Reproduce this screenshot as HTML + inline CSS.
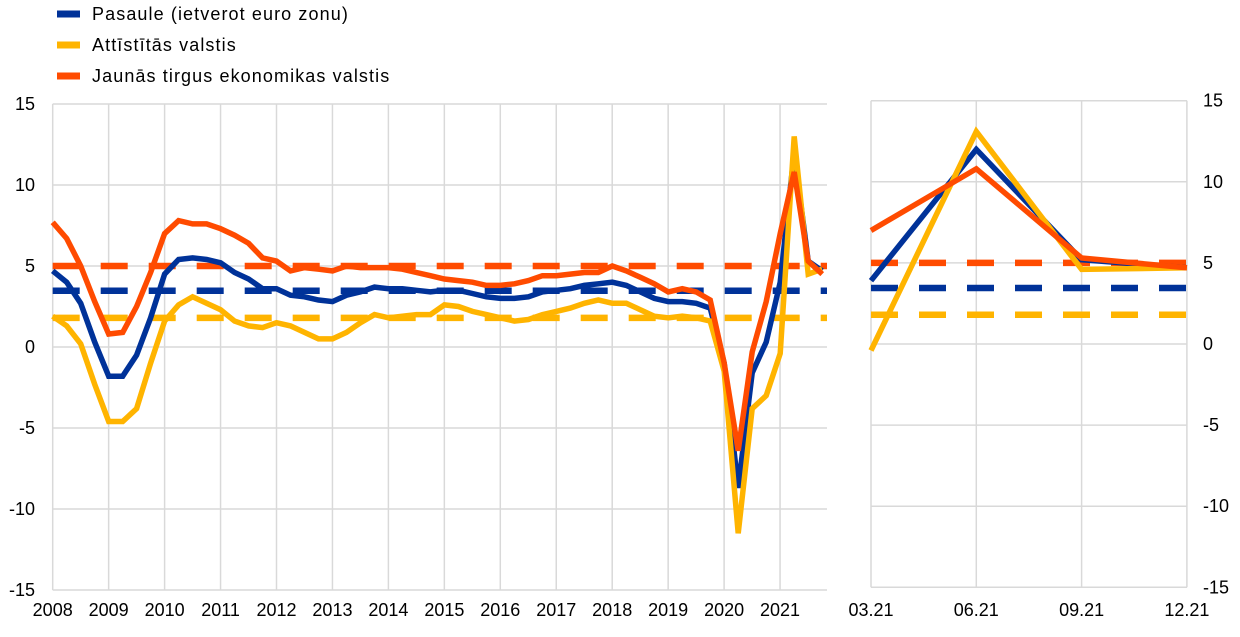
<!DOCTYPE html>
<html><head><meta charset="utf-8"><style>
html,body{margin:0;padding:0;background:#fff;}
svg text{font-family:"Liberation Sans",Arial,sans-serif;font-size:18px;fill:#000;}
svg text.lg{letter-spacing:1.1px;}
</style></head><body>
<svg id="c" width="1240" height="632" xmlns="http://www.w3.org/2000/svg"></svg>
<script>
const s=document.getElementById('c');let h='';
const leg=[["#003299","Pasaule (ietverot euro zonu)",14],["#FFB400","Attīstītās valstis",45],["#FF4B00","Jaunās tirgus ekonomikas valstis",76]];
leg.forEach(l=>{h+=`<line x1="57" x2="80" y1="${l[2]}" y2="${l[2]}" stroke="${l[0]}" stroke-width="7"/><text class="lg" x="92" y="${l[2]+6}">${l[1]}</text>`;});
const L0=52.7,LR=827,ly=v=>347-v*16.2;
for(let v=-15;v<=15;v+=5){h+=`<line x1="${L0}" x2="${LR}" y1="${ly(v)}" y2="${ly(v)}" stroke="#d9d9d9" stroke-width="1.5"/><text x="35" y="${ly(v)+6}" text-anchor="end">${v}</text>`;}
for(let k=0;k<14;k++){const x=L0+k*55.95;h+=`<line x1="${x}" x2="${x}" y1="${ly(15)}" y2="${ly(-15)}" stroke="#d9d9d9" stroke-width="1.5"/><text x="${x}" y="616" text-anchor="middle">${2008+k}</text>`;}
const blue=[4.7,4.0,2.7,0.3,-1.8,-1.8,-0.5,1.8,4.5,5.4,5.5,5.4,5.2,4.6,4.2,3.6,3.6,3.2,3.1,2.9,2.8,3.2,3.4,3.7,3.6,3.6,3.5,3.4,3.5,3.5,3.3,3.1,3.0,3.0,3.1,3.4,3.5,3.6,3.8,3.9,4.0,3.8,3.4,3.0,2.8,2.8,2.7,2.4,-1.0,-8.7,-1.6,0.3,4.0,12.0,5.3,4.7];
const yel=[1.9,1.3,0.2,-2.3,-4.6,-4.6,-3.8,-1.0,1.6,2.6,3.1,2.7,2.3,1.6,1.3,1.2,1.5,1.3,0.9,0.5,0.5,0.9,1.5,2.0,1.8,1.9,2.0,2.0,2.6,2.5,2.2,2.0,1.8,1.6,1.7,2.0,2.2,2.4,2.7,2.9,2.7,2.7,2.3,1.9,1.8,1.9,1.8,1.6,-1.5,-11.5,-3.8,-3.0,-0.4,13.0,4.5,4.8];
const red=[7.7,6.7,5.0,2.8,0.8,0.9,2.5,4.6,7.0,7.8,7.6,7.6,7.3,6.9,6.4,5.5,5.3,4.7,4.9,4.8,4.7,5.0,4.9,4.9,4.9,4.8,4.6,4.4,4.2,4.1,4.0,3.8,3.8,3.9,4.1,4.4,4.4,4.5,4.6,4.6,5.0,4.7,4.3,3.9,3.4,3.6,3.4,2.9,-1.0,-6.4,-0.3,2.8,7.0,10.8,5.3,4.5];
const pl=(d,c,xf,yf)=>`<polyline fill="none" stroke="${c}" stroke-width="5.5" stroke-linejoin="miter" points="${d.map((v,i)=>xf(i).toFixed(1)+','+yf(v).toFixed(1)).join(' ')}"/>`;
const dl=(x1,x2,y,c)=>`<line x1="${x1}" x2="${x2}" y1="${y}" y2="${y}" stroke="${c}" stroke-width="6.5" stroke-dasharray="27 21"/>`;
const lx=i=>L0+i*13.99;
h+=dl(L0,LR,ly(1.8),"#FFB400")+dl(L0,LR,ly(3.47),"#003299")+dl(L0,LR,ly(5),"#FF4B00");
h+=pl(blue,"#003299",lx,ly)+pl(yel,"#FFB400",lx,ly)+pl(red,"#FF4B00",lx,ly);
const R0=871,RR=1187,ry=v=>344-v*16.22;
for(let v=-15;v<=15;v+=5){h+=`<line x1="${R0}" x2="${RR}" y1="${ry(v)}" y2="${ry(v)}" stroke="#d9d9d9" stroke-width="1.5"/><text x="1203" y="${ry(v)+6}">${v}</text>`;}
["03.21","06.21","09.21","12.21"].forEach((t,k)=>{const x=R0+k*105.3;h+=`<line x1="${x}" x2="${x}" y1="${ry(15)}" y2="${ry(-15)}" stroke="#d9d9d9" stroke-width="1.5"/><text x="${x}" y="616" text-anchor="middle">${t}</text>`;});
const rx=i=>R0+i*105.3;
h+=dl(R0,RR,ry(1.8),"#FFB400")+dl(R0,RR,ry(3.45),"#003299")+dl(R0,RR,ry(5),"#FF4B00");
h+=pl([3.9,12.0,5.2,4.7],"#003299",rx,ry)+pl([-0.4,13.1,4.6,4.7],"#FFB400",rx,ry)+pl([7.0,10.8,5.3,4.7],"#FF4B00",rx,ry);
s.innerHTML=h;
</script>
</body></html>
